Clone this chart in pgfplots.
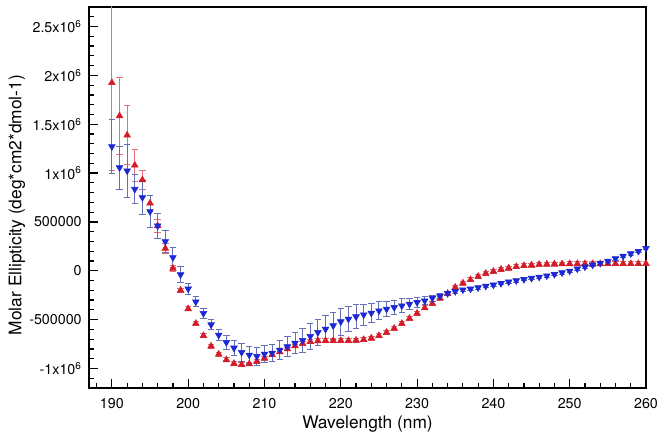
\documentclass[border=0pt]{standalone}
\usepackage{pgfplots}
\pgfplotsset{compat=1.18}
\usepackage{pgfplotstable}
\usepackage{fontspec}
\setmainfont{TeX Gyre Heros}

\definecolor{cdred}{RGB}{212,28,40}
\definecolor{cdblue}{RGB}{28,40,212}
\definecolor{cdrederr}{RGB}{228,110,125}
\definecolor{cdblueerr}{RGB}{100,110,185}

% wavelength, ellipticity, error
\pgfplotstableread{
nm val err
190 1.925e6 0.9e6
191 1.585e6 0.39e6
192 1.387e6 0.30e6
193 1.08e6 0.165e6
194 0.93e6 0.10e6
195 0.692e6 0.08e6
196 0.46e6 0.07e6
197 0.228e6 0.05e6
198 0.024e6 0.03e6
199 -0.20e6 0.02e6
200 -0.39e6 0.02e6
201 -0.54e6 0.02e6
202 -0.665e6 0.02e6
203 -0.772e6 0.02e6
204 -0.855e6 0.02e6
205 -0.912e6 0.02e6
206 -0.95e6 0.02e6
207 -0.961e6 0.02e6
208 -0.954e6 0.02e6
209 -0.927e6 0.02e6
210 -0.895e6 0.02e6
211 -0.86e6 0.02e6
212 -0.83e6 0.02e6
213 -0.80e6 0.02e6
214 -0.77e6 0.02e6
215 -0.745e6 0.02e6
216 -0.725e6 0.02e6
217 -0.718e6 0.02e6
218 -0.716e6 0.02e6
219 -0.716e6 0.02e6
220 -0.716e6 0.02e6
221 -0.716e6 0.02e6
222 -0.712e6 0.02e6
223 -0.705e6 0.02e6
224 -0.69e6 0.02e6
225 -0.665e6 0.02e6
226 -0.631e6 0.02e6
227 -0.59e6 0.02e6
228 -0.54e6 0.02e6
229 -0.488e6 0.02e6
230 -0.436e6 0.02e6
231 -0.38e6 0.02e6
232 -0.335e6 0.02e6
233 -0.28e6 0.02e6
234 -0.232e6 0.02e6
235 -0.17e6 0.02e6
236 -0.126e6 0.02e6
237 -0.092e6 0.02e6
238 -0.058e6 0.02e6
239 -0.027e6 0.02e6
240 -0.007e6 0.02e6
241 0.014e6 0.02e6
242 0.027e6 0.02e6
243 0.041e6 0.02e6
244 0.051e6 0.02e6
245 0.058e6 0.02e6
246 0.064e6 0.02e6
247 0.067e6 0.02e6
248 0.069e6 0.02e6
249 0.070e6 0.02e6
250 0.071e6 0.02e6
251 0.071e6 0.02e6
252 0.071e6 0.02e6
253 0.071e6 0.02e6
254 0.071e6 0.02e6
255 0.072e6 0.02e6
256 0.072e6 0.02e6
257 0.072e6 0.02e6
258 0.072e6 0.02e6
259 0.072e6 0.02e6
260 0.072e6 0.02e6
}\redtab

\pgfplotstableread{
nm val err
190 1.271e6 0.28e6
191 1.056e6 0.22e6
192 1.023e6 0.27e6
193 0.835e6 0.15e6
194 0.75e6 0.17e6
195 0.607e6 0.16e6
196 0.46e6 0.13e6
197 0.30e6 0.11e6
198 0.136e6 0.10e6
199 -0.04e6 0.08e6
200 -0.185e6 0.06e6
201 -0.317e6 0.05e6
202 -0.436e6 0.05e6
203 -0.552e6 0.05e6
204 -0.658e6 0.06e6
205 -0.733e6 0.07e6
206 -0.79e6 0.08e6
207 -0.835e6 0.09e6
208 -0.862e6 0.09e6
209 -0.876e6 0.09e6
210 -0.852e6 0.09e6
211 -0.842e6 0.09e6
212 -0.811e6 0.10e6
213 -0.777e6 0.10e6
214 -0.739e6 0.11e6
215 -0.712e6 0.12e6
216 -0.671e6 0.13e6
217 -0.631e6 0.13e6
218 -0.597e6 0.14e6
219 -0.562e6 0.14e6
220 -0.521e6 0.14e6
221 -0.494e6 0.13e6
222 -0.47e6 0.12e6
223 -0.45e6 0.11e6
224 -0.433e6 0.10e6
225 -0.409e6 0.09e6
226 -0.392e6 0.08e6
227 -0.375e6 0.07e6
228 -0.358e6 0.07e6
229 -0.341e6 0.06e6
230 -0.324e6 0.05e6
231 -0.307e6 0.04e6
232 -0.28e6 0.03e6
233 -0.259e6 0.03e6
234 -0.232e6 0.02e6
235 -0.211e6 0.02e6
236 -0.194e6 0.015e6
237 -0.185e6 0.015e6
238 -0.172e6 0.015e6
239 -0.157e6 0.015e6
240 -0.145e6 0.015e6
241 -0.129e6 0.015e6
242 -0.113e6 0.015e6
243 -0.100e6 0.015e6
244 -0.088e6 0.015e6
245 -0.076e6 0.015e6
246 -0.064e6 0.015e6
247 -0.051e6 0.015e6
248 -0.036e6 0.015e6
249 -0.019e6 0.015e6
250 -0.002e6 0.015e6
251 0.02e6 0.015e6
252 0.04e6 0.015e6
253 0.06e6 0.015e6
254 0.078e6 0.015e6
255 0.10e6 0.015e6
256 0.125e6 0.015e6
257 0.15e6 0.015e6
258 0.175e6 0.015e6
259 0.20e6 0.015e6
260 0.23e6 0.015e6
}\bluetab

\begin{document}
\begin{tikzpicture}
\begin{axis}[
    scale only axis,
    width=417.75pt, height=285.75pt,
    xmin=187, xmax=260,
    ymin=-1.2e6, ymax=2.7e6,
    axis line style={line width=1.2pt},
    xtick={190,200,...,260},
    minor xtick={188,190,...,260},
    ytick={-1e6,-5e5,0,5e5,1e6,1.5e6,2e6,2.5e6},
    minor ytick={-1.2e6,-1.1e6,...,2.7e6},
    yticklabels={-1x10\textsuperscript{6},-500000,0,500000,1x10\textsuperscript{6},1.5x10\textsuperscript{6},2x10\textsuperscript{6},2.5x10\textsuperscript{6}},
    scaled y ticks=false,
    tick align=inside,
    xtick pos=left, ytick pos=left,
    major tick length=7pt, minor tick length=3.5pt,
    tick style={black, line width=0.9pt},
    /pgf/number format/assume math mode=true,
    tick label style={font=\fontsize{10.7}{12}\selectfont},
    xticklabel style={yshift=-4pt},
    yticklabel style={xshift=-2pt},
    label style={font=\fontsize{13}{15}\selectfont},
    xlabel={Wavelength (nm)},
    ylabel={Molar Ellipticity (deg*cm2*dmol-1)},
    xlabel style={at={([yshift=-27pt]axis description cs:0.5,0)}, anchor=center},
    ylabel style={at={([xshift=-54pt]axis description cs:0,0.48)}, anchor=center},
]
\addplot[only marks, mark=triangle*, mark size=2.9pt, color=cdred,
    error bars/.cd, y dir=both, y explicit,
    error bar style={cdrederr, line width=0.7pt},
    error mark options={cdrederr, rotate=90, mark size=2.4pt, line width=0.7pt}]
    table[x=nm, y=val, y error=err] {\redtab};
\addplot[only marks, mark=triangle*, mark size=2.9pt, mark options={rotate=180}, color=cdblue,
    error bars/.cd, y dir=both, y explicit,
    error bar style={cdblueerr, line width=0.7pt},
    error mark options={cdblueerr, rotate=90, mark size=2.4pt, line width=0.7pt}]
    table[x=nm, y=val, y error=err] {\bluetab};
\coordinate (sw) at (rel axis cs:0,0);
\coordinate (ne) at (rel axis cs:1,1);
\end{axis}
\pgfresetboundingbox
\path[use as bounding box] ([xshift=-66.75pt,yshift=-39pt]sw) rectangle ([xshift=13.5pt,yshift=5.25pt]ne);
\end{tikzpicture}
\end{document}
